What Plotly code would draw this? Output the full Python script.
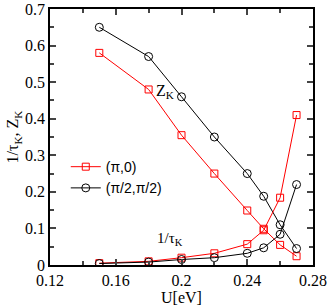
import plotly.graph_objects as go

U = [0.15, 0.18, 0.20, 0.22, 0.24, 0.25, 0.26, 0.27]
Z_pi0 = [0.58, 0.48, 0.355, 0.25, 0.149, 0.099, 0.055, 0.024]
Z_pi2 = [0.65, 0.57, 0.46, 0.35, 0.25, 0.188, 0.11, 0.045]
tau_pi0 = [0.005, 0.010, 0.020, 0.032, 0.057, 0.095, 0.184, 0.41]
tau_pi2 = [0.004, 0.008, 0.015, 0.020, 0.032, 0.047, 0.084, 0.22]

FONT = "Liberation Serif"
SANS = "Liberation Sans"
red = "#ff0000"
black = "#000000"

fig = go.Figure()
fig.add_trace(go.Scatter(x=U, y=Z_pi0, mode="lines+markers", name="(π,0)",
                         line=dict(color=red, width=1),
                         marker=dict(symbol="square-open", size=7, color=red, line=dict(width=1))))
fig.add_trace(go.Scatter(x=U, y=Z_pi2, mode="lines+markers", name="(π/2,π/2)",
                         line=dict(color=black, width=1),
                         marker=dict(symbol="circle-open", size=8, color=black, line=dict(width=1))))
fig.add_trace(go.Scatter(x=U, y=tau_pi0, mode="lines+markers", showlegend=False,
                         line=dict(color=red, width=1),
                         marker=dict(symbol="square-open", size=7, color=red, line=dict(width=1))))
fig.add_trace(go.Scatter(x=U, y=tau_pi2, mode="lines+markers", showlegend=False,
                         line=dict(color=black, width=1),
                         marker=dict(symbol="circle-open", size=8, color=black, line=dict(width=1))))

fig.add_annotation(x=0.1835, y=0.475, text="Z<sub>K</sub>", showarrow=False,
                   xanchor="left", yanchor="middle", font=dict(family=FONT, size=16, color="black"))
fig.add_annotation(x=0.193, y=0.07, text="1/τ<sub>K</sub>", showarrow=False,
                   xanchor="center", yanchor="middle", font=dict(family=FONT, size=15, color="black"))

axis_common = dict(showgrid=False, zeroline=False, showline=True, linecolor="black", linewidth=1.5,
                   mirror="ticks", ticks="inside", ticklen=6, tickwidth=1.5, tickcolor="#444",
                   tickfont=dict(family=FONT, size=16, color="black"))
fig.update_xaxes(range=[0.12, 0.28], tick0=0.12, dtick=0.04, tickformat=".2~f",
                 automargin="height",
                 minor=dict(dtick=0.02, ticks="inside", ticklen=4, tickcolor="#444", tickwidth=1.5),
                 title=dict(text="U[eV]", font=dict(family=FONT, size=16, color="black"), standoff=0),
                 **axis_common)
fig.update_yaxes(range=[0, 0.7], dtick=0.1, tickformat=".1~f", automargin=False,
                 minor=dict(dtick=0.05, ticks="inside", ticklen=4, tickcolor="#444", tickwidth=1.5),
                 title=dict(text="1/τ<sub>K</sub>, Z<sub>K</sub>", font=dict(family=FONT, size=16, color="black"), standoff=2),
                 **axis_common)

fig.update_layout(width=327, height=307, margin=dict(l=50, r=14, t=7, b=36),
                  plot_bgcolor="white", paper_bgcolor="white",
                  font=dict(family=FONT, size=16, color="black"),
                  legend=dict(x=0.06, y=0.445, xanchor="left", yanchor="top", bgcolor="rgba(0,0,0,0)",
                              font=dict(family=SANS, size=14), itemwidth=30, tracegroupgap=0,
                              borderwidth=0))

fig.write_html("out.html", config={"displayModeBar": False},
               post_script="document.body.style.margin='0px';document.body.style.overflow='hidden';")
